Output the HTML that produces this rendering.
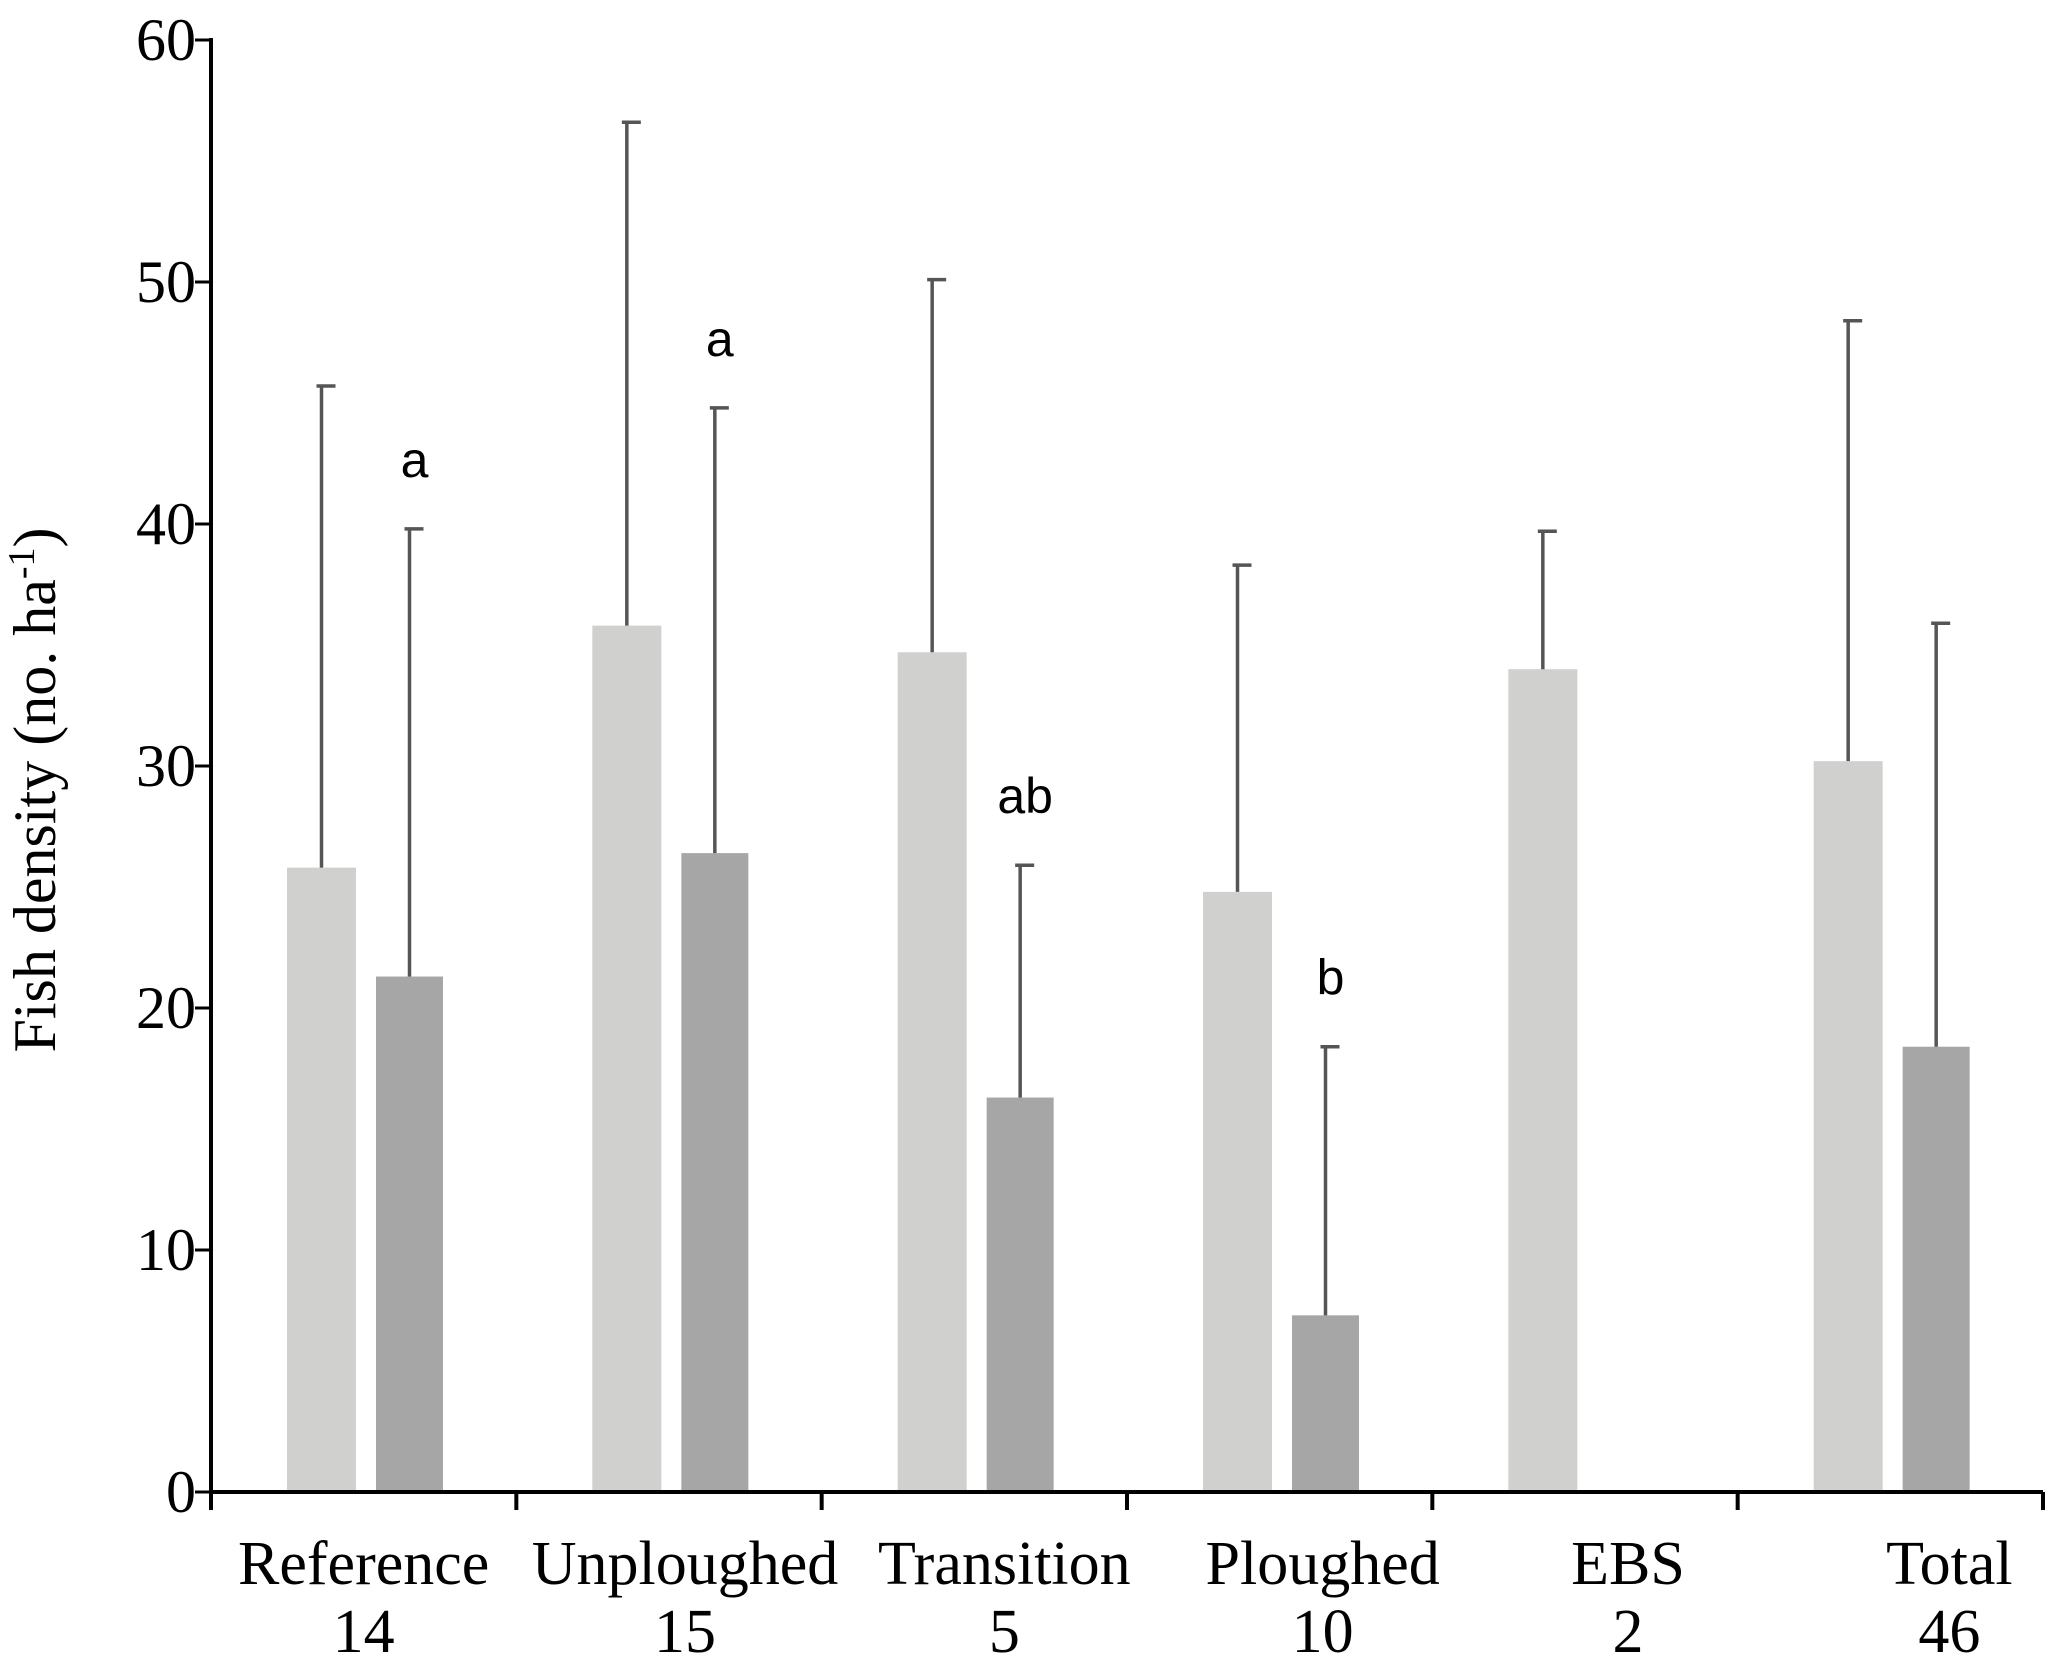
<!DOCTYPE html>
<html><head><meta charset="utf-8"><style>
html,body{margin:0;padding:0;background:#fff;}
svg{display:block;}
</style></head><body>
<svg id="chart" width="2067" height="1674" viewBox="0 0 2067 1674" xmlns="http://www.w3.org/2000/svg"></svg>
<script>
const categories = ["Reference","Unploughed","Transition","Ploughed","EBS","Total"];
const sampleSizes = ["14","15","5","10","2","46"];
const lightValues = [25.8, 35.8, 34.7, 24.8, 34.0, 30.2];
const lightUpper = [45.7, 56.6, 50.1, 38.3, 39.7, 48.4];
const darkValues = [21.3, 26.4, 16.3, 7.3, null, 18.4];
const darkUpper = [39.8, 44.8, 25.9, 18.4, null, 35.9];
const sigLetters = ["a","a","ab","b","",""];
const yTicks = [0,10,20,30,40,50,60];

const NS="http://www.w3.org/2000/svg";
const svg=document.getElementById('chart');
const X0=211, X1=2043, Y0=1492, Y60=40;
const catW=(X1-X0)/categories.length;
function y(v){return Y0-(v/60)*(Y0-Y60);}
function catX(i){return X0+i*catW;}
function mk(tag,attrs,parent){const e=document.createElementNS(NS,tag);for(const k in attrs)e.setAttribute(k,attrs[k]);(parent||svg).appendChild(e);return e;}
const labelOffsets=[0,16,30,43,43,59];

categories.forEach((c,i)=>{
  const lx=catX(i)+76, lw=69;
  let r=mk('rect',{x:lx,y:y(lightValues[i]),width:lw,height:Y0-y(lightValues[i]),fill:'#d0d0ce'});
  
  
  const lc=lx+lw/2;
  let e=mk('line',{x1:lc,x2:lc,y1:y(lightValues[i]),y2:y(lightUpper[i]),stroke:'#555',"stroke-width":3.5});
  
  
  mk('line',{x1:lc-5,x2:lc+14,y1:y(lightUpper[i]),y2:y(lightUpper[i]),stroke:'#555',"stroke-width":3.5});
  if(darkValues[i]!==null){
    const dx=catX(i)+165, dw=67;
    let d=mk('rect',{x:dx,y:y(darkValues[i]),width:dw,height:Y0-y(darkValues[i]),fill:'#a6a6a6'});
    
    
    const dc=dx+dw/2;
    let de=mk('line',{x1:dc,x2:dc,y1:y(darkValues[i]),y2:y(darkUpper[i]),stroke:'#555',"stroke-width":3.5});
    
    
    mk('line',{x1:dc-5,x2:dc+14,y1:y(darkUpper[i]),y2:y(darkUpper[i]),stroke:'#555',"stroke-width":3.5});
    if(sigLetters[i]){
      let t=mk('text',{x:dc+5,y:y(darkUpper[i])-52,"text-anchor":"middle","font-family":"Liberation Sans, sans-serif","font-size":50,fill:'#000'});
      t.textContent=sigLetters[i];
      
      
    }
  }
  const cx=catX(i)+catW/2+labelOffsets[i];
  let t1=mk('text',{x:cx,y:1584,"text-anchor":"middle","font-family":"Liberation Serif, serif","font-size":62,fill:'#000'});
  t1.textContent=c;
  
  
  let t2=mk('text',{x:cx,y:1652,"text-anchor":"middle","font-family":"Liberation Serif, serif","font-size":62,fill:'#000'});
  t2.textContent=sampleSizes[i];
  
  
});

let ya=mk('line',{x1:X0,x2:X0,y1:Y60-2,y2:Y0+18,stroke:'#000',"stroke-width":4});


let xa=mk('line',{x1:X0,x2:X1,y1:Y0,y2:Y0,stroke:'#000',"stroke-width":4});


yTicks.forEach(v=>{
  mk('line',{x1:X0-16,x2:X0,y1:y(v),y2:y(v),stroke:'#000',"stroke-width":3});
  let t=mk('text',{x:196,y:y(v)+20,"text-anchor":"end","font-family":"Liberation Serif, serif","font-size":60,fill:'#000'});
  t.textContent=v;
  
  
});
for(let i=1;i<=categories.length;i++){
  mk('line',{x1:catX(i),x2:catX(i),y1:Y0,y2:Y0+18,stroke:'#000',"stroke-width":4});
}
let yt=mk('text',{x:0,y:0,transform:'translate(55,790) rotate(-90)',"text-anchor":"middle","font-family":"Liberation Serif, serif","font-size":60,fill:'#000'});
yt.innerHTML='Fish density (no. ha<tspan baseline-shift="super" font-size="38">-1</tspan>)';


</script>
</body></html>
